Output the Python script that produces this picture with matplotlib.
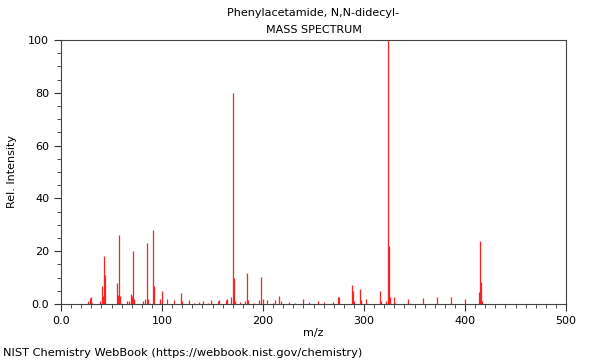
import numpy as np
import matplotlib
matplotlib.use('Agg')
import matplotlib.pyplot as plt
from matplotlib.ticker import MultipleLocator, FuncFormatter

# peaks (m/z, relative intensity)
mz = [27, 29, 30, 31, 39, 41, 42, 43, 44, 55, 56, 57, 58, 65, 67, 69, 70, 71, 72,
      81, 83, 85, 86, 91, 92, 98, 100, 105, 112, 119, 120, 127, 132, 137, 141, 146,
      149, 155, 156, 163, 164, 168, 170, 171, 172, 177, 182, 184, 185, 191, 196, 198,
      200, 204, 210, 212, 216, 218, 226, 232, 240, 246, 254, 260, 269, 274, 275,
      288, 289, 290, 296, 297, 302, 316, 317, 322, 324, 325, 326, 330, 331, 344,
      358, 372, 386, 400, 414, 415, 416, 417]
intensity = [1.2, 2.2, 2.8, 0.5, 1.2, 6.8, 3.0, 18.0, 11.0, 8.0, 3.5, 26.0, 3.0, 1.0, 1.0, 3.8, 3.0, 20.0, 2.0,
             1.0, 2.0, 23.0, 2.0, 28.0, 7.0, 2.0, 5.0, 1.8, 1.5, 4.0, 1.0, 1.5, 0.5, 0.8, 1.3, 0.5,
             1.5, 1.2, 1.5, 1.5, 2.0, 2.5, 80.0, 10.0, 1.0, 0.8, 1.0, 11.6, 1.5, 0.5, 1.5, 10.4,
             2.0, 1.5, 0.5, 1.5, 3.2, 1.0, 0.9, 0.5, 2.0, 0.9, 1.0, 0.6, 0.8, 2.8, 2.5,
             7.2, 5.0, 1.0, 5.5, 1.5, 2.0, 4.8, 1.0, 1.0, 100.0, 22.0, 2.5, 2.5, 0.5, 1.8,
             2.2, 2.8, 2.7, 2.0, 4.5, 24.0, 8.2, 1.0]

title1 = 'Phenylacetamide, N,N-didecyl-'
title2 = 'MASS SPECTRUM'
footer = 'NIST Chemistry WebBook (https://webbook.nist.gov/chemistry)'

fig = plt.figure(figsize=(6, 3.6), dpi=100)
ax = fig.add_axes([61/600, 56/360, 505/600, 264/360])

ax.vlines(mz, 0, intensity, colors='#ff2020', linewidth=0.9)

ax.set_xlim(0, 500)
ax.set_ylim(0, 100)
ax.xaxis.set_major_locator(MultipleLocator(100))
ax.xaxis.set_minor_locator(MultipleLocator(10))
ax.yaxis.set_major_locator(MultipleLocator(20))
ax.yaxis.set_minor_locator(MultipleLocator(5))
fmt = FuncFormatter(lambda v, p: '0.0' if v == 0 else f'{v:.0f}')
ax.xaxis.set_major_formatter(fmt)
ax.yaxis.set_major_formatter(fmt)
ax.tick_params(which='both', direction='out', labelsize=8, color='#333333')
ax.tick_params(which='major', length=5)
ax.tick_params(which='minor', length=3)
for s in ax.spines.values():
    s.set_color('#444444')
    s.set_linewidth(0.8)

ax.set_xlabel('m/z', fontsize=8)
ax.set_ylabel('Rel. Intensity', fontsize=8)
ax.yaxis.set_label_coords(-0.087, 0.5)
ax.xaxis.set_label_coords(0.5, -0.092)

# two title lines placed separately to match spacing
fig.text(313.5/600, 1 - 13/360, title1, fontsize=8, ha='center', va='center')
fig.text(313.5/600, 1 - 30/360, title2, fontsize=8, ha='center', va='center')
fig.text(3/600, 1 - 353/360, footer, fontsize=8.2, va='center', ha='left')

fig.savefig('out.png', dpi=100)
